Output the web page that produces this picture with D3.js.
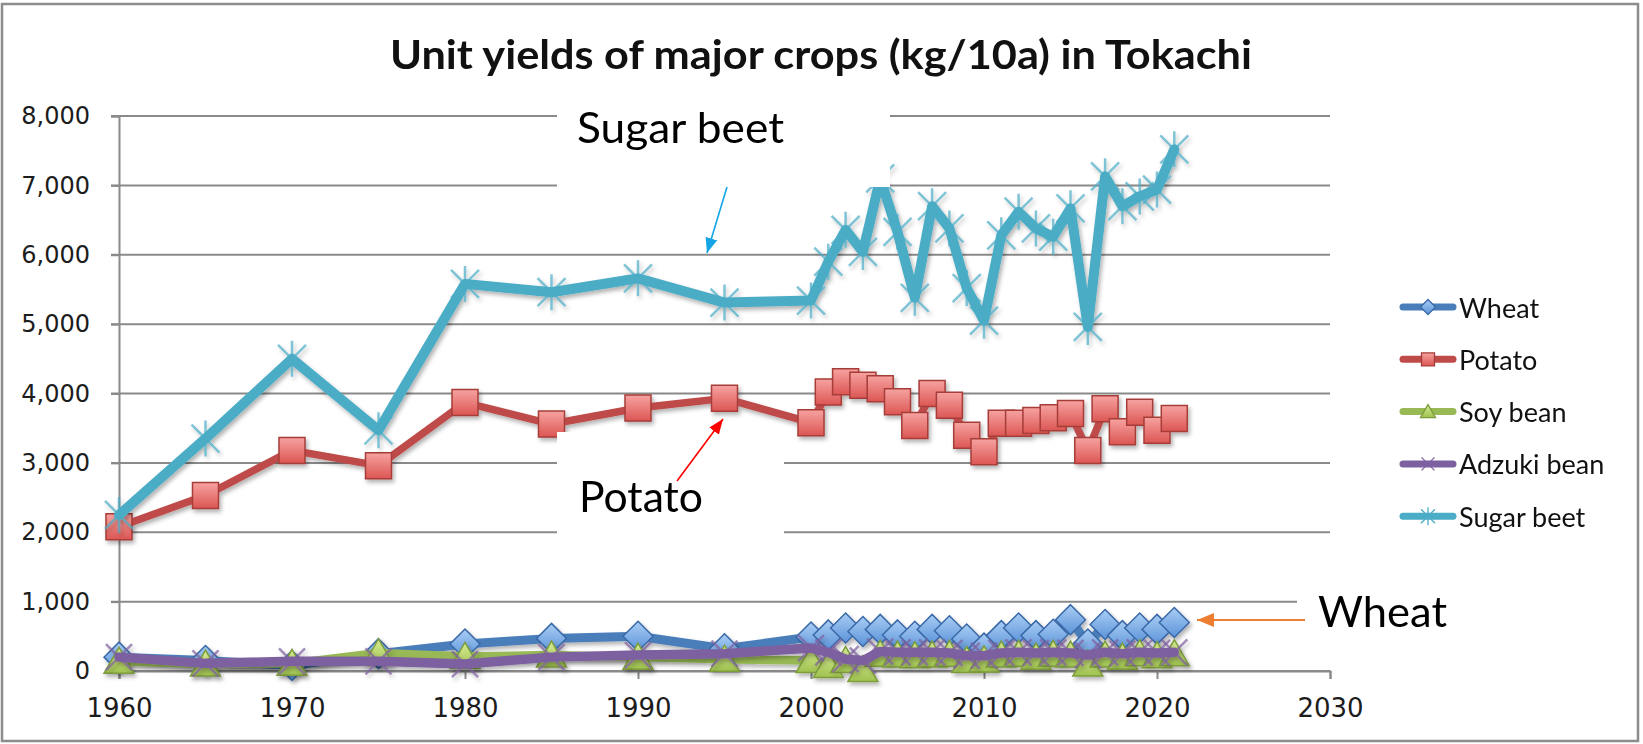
<!DOCTYPE html>
<html>
<head>
<meta charset="utf-8">
<script src="https://cdn.jsdelivr.net/npm/d3@7"></script>
<style>
  body { margin: 0; background: #fff; }
  svg { display: block; }
</style>
</head>
<body>
<svg width="1643" height="744"></svg>
<script>
// Data (kg/10a)
var years = [1960, 1965, 1970, 1975, 1980, 1985, 1990, 1995, 2000, 2001, 2002, 2003, 2004, 2005, 2006,
  2007, 2008, 2009, 2010, 2011, 2012, 2013, 2014, 2015, 2016, 2017, 2018, 2019, 2020, 2021];
var wheat = [200, 150, 80, 250, 390, 470, 500, 320, 490, 520, 620, 570, 600, 520, 500,
  600, 580, 460, 330, 510, 620, 510, 530, 740, 390, 670, 510, 620, 600, 700];
var potato = [2080, 2530, 3180, 2960, 3870, 3560, 3790, 3930, 3580, 4020, 4170, 4120, 4070, 3880, 3540,
  4000, 3830, 3400, 3160, 3570, 3570, 3610, 3650, 3710, 3180, 3780, 3450, 3730, 3470, 3640];
var soyBean = [140, 100, 110, 260, 210, 230, 200, 170, 150, 80, 150, 20, 240, 230, 220,
  230, 240, 150, 160, 230, 240, 200, 240, 230, 100, 230, 200, 250, 220, 250];
var adzukiBean = [200, 110, 140, 140, 100, 200, 230, 250, 330, 270, 170, 150, 280, 270, 270,
  270, 260, 220, 220, 260, 270, 260, 270, 260, 230, 270, 250, 270, 260, 270];
var sugarBeet = [2250, 3350, 4500, 3470, 5580, 5460, 5660, 5310, 5340, 5900, 6360, 6040, 7100, 6330, 5380,
  6700, 6380, 5520, 5050, 6280, 6620, 6380, 6260, 6670, 4960, 7130, 6700, 6840, 6940, 7520];

var seriesNames = ["Wheat", "Potato", "Soy bean", "Adzuki bean", "Sugar beet"];
var xTicks = [1960, 1970, 1980, 1990, 2000, 2010, 2020, 2030];
var yTicks = [0, 1000, 2000, 3000, 4000, 5000, 6000, 7000, 8000];
var titleText = "Unit yields of major crops (kg/10a) in Tokachi";

var svg = d3.select('svg');

// Scales
var x = d3.scaleLinear().domain([1960, 2030]).range([119, 1330]);
var y = d3.scaleLinear().domain([0, 8000]).range([671, 116]);

// Styles for each series, same order as seriesNames
var styles = [
  { line: '#4a7ebb', fill: 'url(#gWheat)', stroke: '#3a69a8', shape: 'diamond', width: 9 },
  { line: '#be4b48', fill: 'url(#gPotato)', stroke: '#a63c39', shape: 'square', width: 7.5 },
  { line: '#98b954', fill: 'url(#gSoy)', stroke: '#7e9d3e', shape: 'triangle', width: 8.5 },
  { line: '#7d60a0', fill: 'none', stroke: '#7d60a0', shape: 'x', width: 9.5 },
  { line: '#4bacc6', fill: 'none', stroke: '#4bacc6', shape: 'star', width: 10 }
];
var seriesData = [wheat, potato, soyBean, adzukiBean, sugarBeet];

// Defs: gradients, shadow, arrowheads
var defs = svg.append('defs');
function addGradient(id, top, bottom) {
  var g = defs.append('linearGradient').attr('id', id)
    .attr('x1', 0).attr('y1', 0).attr('x2', 0).attr('y2', 1);
  g.append('stop').attr('offset', '0%').attr('stop-color', top);
  g.append('stop').attr('offset', '100%').attr('stop-color', bottom);
}
addGradient('gWheat', '#a9cdf4', '#5b93d9');
addGradient('gPotato', '#f6a3a1', '#dc5653');
addGradient('gSoy', '#d8ec95', '#9fc24f');

var shadow = defs.append('filter').attr('id', 'shadow')
  .attr('x', '-10%').attr('y', '-10%').attr('width', '130%').attr('height', '140%');
shadow.append('feDropShadow').attr('dx', 2).attr('dy', 3).attr('stdDeviation', 2)
  .attr('flood-color', '#000').attr('flood-opacity', 0.3);

function addArrow(id, color, len, half) {
  defs.append('marker').attr('id', id)
    .attr('viewBox', '0 0 ' + len + ' ' + (half * 2))
    .attr('refX', len).attr('refY', half)
    .attr('markerWidth', len).attr('markerHeight', half * 2)
    .attr('markerUnits', 'userSpaceOnUse')
    .attr('orient', 'auto')
    .append('path')
    .attr('d', 'M0,0L' + len + ',' + half + 'L0,' + (half * 2) + 'Z')
    .attr('fill', color);
}
addArrow('arrBlue', '#14a5e6', 15, 6);
addArrow('arrRed', '#ff0000', 15, 6);
addArrow('arrOrange', '#ed7d31', 17, 7);

// Marker shapes
function shapePath(shape, s) {
  if (shape === 'diamond') return 'M0,' + (-15 * s) + 'L' + (15 * s) + ',0L0,' + (15 * s) + 'L' + (-15 * s) + ',0Z';
  if (shape === 'square') return 'M' + (-13 * s) + ',' + (-13 * s) + 'h' + (26 * s) + 'v' + (26 * s) + 'h' + (-26 * s) + 'Z';
  if (shape === 'triangle') return 'M0,' + (-14 * s) + 'L' + (15 * s) + ',' + (12 * s) + 'L' + (-15 * s) + ',' + (12 * s) + 'Z';
  if (shape === 'x') return 'M' + (-13 * s) + ',' + (-13 * s) + 'L' + (13 * s) + ',' + (13 * s) +
    'M' + (13 * s) + ',' + (-13 * s) + 'L' + (-13 * s) + ',' + (13 * s);
  return 'M' + (-14 * s) + ',' + (-14 * s) + 'L' + (14 * s) + ',' + (14 * s) +
    'M' + (14 * s) + ',' + (-14 * s) + 'L' + (-14 * s) + ',' + (14 * s) +
    'M0,' + (-18 * s) + 'L0,' + (18 * s);
}

// Gridlines
svg.append('g').selectAll('line.grid')
  .data(yTicks)
  .enter().append('line')
  .attr('class', 'grid')
  .attr('x1', x(1960) - 8).attr('x2', x(2030))
  .attr('y1', d => y(d)).attr('y2', d => y(d))
  .attr('stroke', '#8a8a8a').attr('stroke-width', 2);

// Y axis
var yAxis = svg.append('g')
  .attr('transform', 'translate(' + x(1960) + ',0)')
  .call(d3.axisLeft(y).tickValues(yTicks).tickSize(8).tickPadding(21).tickFormat(d3.format(',')));
yAxis.select('.domain').attr('stroke', '#8a8a8a').attr('stroke-width', 2);
yAxis.selectAll('.tick line').attr('stroke', '#8a8a8a').attr('stroke-width', 2);
yAxis.selectAll('text')
  .style('font-family', '"DejaVu Sans", sans-serif')
  .style('font-size', '24px')
  .attr('fill', '#1c1c1c');

// X axis
var xAxis = svg.append('g')
  .attr('transform', 'translate(0,' + y(0) + ')')
  .call(d3.axisBottom(x).tickValues(xTicks).tickSize(8).tickPadding(20).tickFormat(d3.format('d')));
xAxis.select('.domain').attr('stroke', '#8a8a8a').attr('stroke-width', 2);
xAxis.selectAll('.tick line').attr('stroke', '#8a8a8a').attr('stroke-width', 2);
xAxis.selectAll('text')
  .style('font-family', '"DejaVu Sans", sans-serif')
  .style('font-size', '26px')
  .attr('fill', '#1c1c1c');

// Series: line then markers, later series on top
var line = d3.line()
  .x(d => x(d.year))
  .y(d => y(d.value));

seriesData.forEach(function(vals, k) {
  var st = styles[k];
  var pts = years.map(function(yr, i) { return { year: yr, value: vals[i] }; });
  var g = svg.append('g').attr('filter', 'url(#shadow)');
  g.append('path')
    .datum(pts)
    .attr('d', line)
    .attr('fill', 'none')
    .attr('stroke', st.line)
    .attr('stroke-width', st.width)
    .attr('stroke-linejoin', 'round')
    .attr('stroke-linecap', 'round');
  var open = st.fill === 'none';
  g.selectAll('path.mk')
    .data(pts)
    .enter().append('path')
    .attr('class', 'mk')
    .attr('transform', d => 'translate(' + x(d.year) + ',' + y(d.value) + ')')
    .attr('d', shapePath(st.shape, 1))
    .attr('fill', st.fill)
    .attr('stroke', st.stroke)
    .attr('stroke-width', open ? 2.5 : 1.5)
    .attr('stroke-opacity', open ? 0.7 : 1);
});

// Title
svg.append('text')
  .attr('x', 821).attr('y', 69)
  .attr('text-anchor', 'middle')
  .attr('textLength', 862).attr('lengthAdjust', 'spacingAndGlyphs')
  .style('font-family', 'Lato, "Open Sans", sans-serif')
  .style('font-weight', 'bold')
  .style('font-size', '41px')
  .attr('fill', '#111')
  .text(titleText);

// Legend
var legend = svg.append('g');
seriesNames.forEach(function(name, k) {
  var st = styles[k];
  var cy = 307 + k * 52.3;
  var lg = legend.append('g');
  lg.append('line')
    .attr('x1', 1403).attr('x2', 1453).attr('y1', cy).attr('y2', cy)
    .attr('stroke', st.line).attr('stroke-width', 7).attr('stroke-linecap', 'round');
  lg.append('path')
    .attr('transform', 'translate(1428,' + cy + ')')
    .attr('d', shapePath(st.shape, 0.5))
    .attr('fill', st.fill)
    .attr('stroke', st.stroke)
    .attr('stroke-width', 1.3);
  lg.append('text')
    .attr('x', 1459).attr('y', cy)
    .attr('dominant-baseline', 'central')
    .style('font-family', 'Lato, "Open Sans", sans-serif')
    .style('font-size', '27px')
    .attr('fill', '#111')
    .text(name);
});

// Annotation boxes (white, drawn over the plot)
var notes = [
  { label: 'Sugar beet', box: [557, 98, 333, 89], tx: 577, ty: 143, tw: 207 },
  { label: 'Potato', box: [557, 432, 227, 108], tx: 579, ty: 512, tw: 124 },
  { label: 'Wheat', box: [1297, 582, 165, 58], tx: 1318, ty: 627, tw: 129 }
];
notes.forEach(function(n) {
  svg.append('rect')
    .attr('x', n.box[0]).attr('y', n.box[1])
    .attr('width', n.box[2]).attr('height', n.box[3])
    .attr('fill', '#fff');
  svg.append('text')
    .attr('x', n.tx).attr('y', n.ty)
    .attr('textLength', n.tw).attr('lengthAdjust', 'spacingAndGlyphs')
    .style('font-family', 'Lato, "Open Sans", sans-serif')
    .style('font-size', '42px')
    .attr('fill', '#000')
    .text(n.label);
});

// Arrows
svg.append('line')
  .attr('x1', 727).attr('y1', 187).attr('x2', 707).attr('y2', 253)
  .attr('stroke', '#14a5e6').attr('stroke-width', 1.6)
  .attr('marker-end', 'url(#arrBlue)');
svg.append('line')
  .attr('x1', 677).attr('y1', 481).attr('x2', 723).attr('y2', 419)
  .attr('stroke', '#ff0000').attr('stroke-width', 1.6)
  .attr('marker-end', 'url(#arrRed)');
svg.append('line')
  .attr('x1', 1305).attr('y1', 620).attr('x2', 1197).attr('y2', 620)
  .attr('stroke', '#ed7d31').attr('stroke-width', 2)
  .attr('marker-end', 'url(#arrOrange)');

// Outer chart border
svg.append('rect')
  .attr('x', 2).attr('y', 4)
  .attr('width', 1636).attr('height', 737)
  .attr('fill', 'none')
  .attr('stroke', '#8c8c8c').attr('stroke-width', 2.5);
</script>
</body>
</html>
